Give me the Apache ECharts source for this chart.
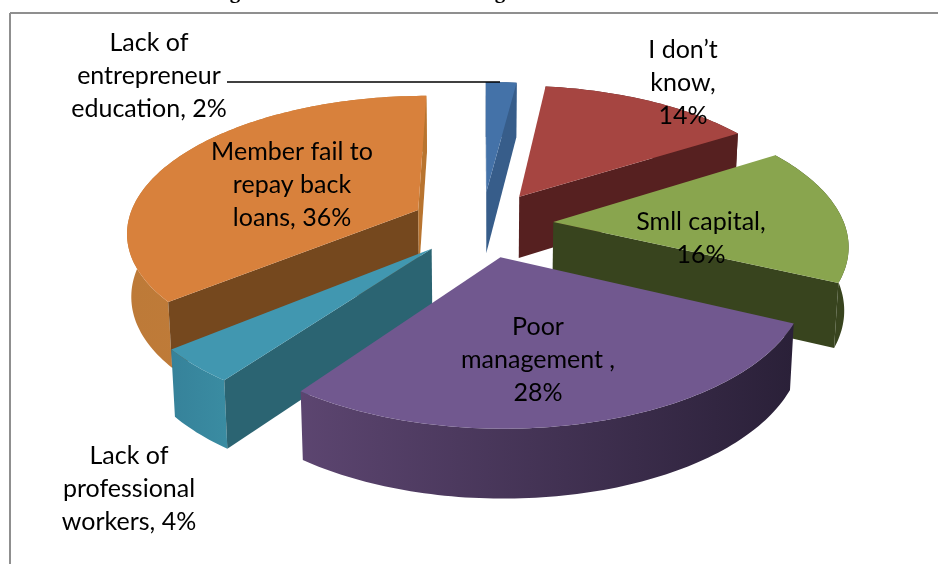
<!DOCTYPE html>
<html>
<head>
<meta charset="utf-8">
<style>html,body{margin:0;padding:0;background:#fff}#c{width:938px;height:564px}</style>
<script src="https://cdn.jsdelivr.net/npm/echarts@6/dist/echarts.min.js"></script>
</head>
<body>
<div id="c"></div>
<script>
// ---- data ----
const categories = ['Lack of entrepreneur education', 'I don\u2019t know', 'Smll capital', 'Poor management ', 'Lack of professional workers', 'Member fail to repay back loans'];
const values = [2, 14, 16, 28, 4, 36];
const labelLines = [
  ['Lack of', 'entrepreneur', 'education, 2%'],
  ['I don\u2019t', 'know,', '14%'],
  ['Smll capital,', '16%'],
  ['Poor', 'management ,', '28%'],
  ['Lack of', 'professional', 'workers, 4%'],
  ['Member fail to', 'repay back', 'loans, 36%']
];
// ---- styling ----
const topColors = ['#4472a8', '#a64541', '#89a54e', '#71588f', '#4197b0', '#d8813c'];
const startCutColors = ['#375d8a', '#562020', '#38441e', '#3a2d4a', '#2b6472', '#75481e'];
const endCutColors = ['#375d8a', '#562020', '#38441e', '#3a2d4a', '#2b6472', '#b8742f'];
const wallStops = [
  ['#375d8a', '#375d8a'], ['#562020', '#562020'], ['#38441e', '#38441e'],
  ['#5c4570', '#2a2038'], ['#36829a', '#3a8ca2'], ['#bd7a38', '#c67e3a']
];
const labelCenters = [[149, 76], [683, 83], [701, 238], [538, 360], [129, 489], [292, 185]];
const FONT = 'Lato, "Open Sans", sans-serif';

// ---- projection of the tilted, exploded pie ----
const cx = 482, cy = 224, S = 291, persp = 0.148, K = 135, explode = 0.246;
function topPoint(X, Y) {
  const w = 1 + persp * Y;
  return [cx + S * X / w, cy - K * Y / w];
}
function bottomPoint(X, Y) {
  const p = topPoint(X, Y);
  return [p[0] - (p[0] - cx) * 0.012, p[1] + 62.5 - 6 * Y];
}
const total = values.reduce((a, b) => a + b, 0);
let running = 0;
const wedges = values.map((v) => {
  const a0 = running / total * 2 * Math.PI;
  running += v;
  const a1 = running / total * 2 * Math.PI;
  const mid = (a0 + a1) / 2;
  return { a0, a1, mid, ox: explode * Math.sin(mid), oy: explode * Math.cos(mid) };
});
const depthOrder = wedges.map((w, i) => ({ i, y: w.oy + 0.5 * Math.cos(w.mid) }))
  .sort((p, q) => q.y - p.y).map((p) => p.i);

function sideOf(a, b, p) {
  return (b[0] - a[0]) * (p[1] - a[1]) - (b[1] - a[1]) * (p[0] - a[0]);
}
function renderItem(params, api) {
  const i = params.dataIndex;
  api.value(0);
  const w = wedges[i];
  const rank = depthOrder.indexOf(i) * 10;
  const N = Math.max(6, Math.round((w.a1 - w.a0) / 0.02));
  const topArc = [], botArc = [];
  for (let n = 0; n <= N; n++) {
    const t = w.a0 + (w.a1 - w.a0) * n / N;
    const X = w.ox + Math.sin(t), Y = w.oy + Math.cos(t);
    topArc.push(topPoint(X, Y));
    botArc.push(bottomPoint(X, Y));
  }
  const apexT = topPoint(w.ox, w.oy), apexB = bottomPoint(w.ox, w.oy);
  const midT = topArc[Math.floor(N / 2)];
  const children = [];
  const poly = (pts, fill, z) => ({
    type: 'polygon', silent: true, z2: rank + z, shape: { points: pts },
    style: { fill: fill, stroke: null }
  });
  children.push(poly(topArc.concat(botArc.slice().reverse()), new echarts.graphic.LinearGradient(0, 0, 1, 0, [
    { offset: 0, color: wallStops[i][0] }, { offset: 1, color: wallStops[i][1] }
  ]), 1));
  const faces = [[topArc[0], botArc[0], startCutColors[i]], [topArc[N], botArc[N], endCutColors[i]]];
  faces.forEach((f) => {
    const visible = sideOf(apexT, f[0], midT) * sideOf(apexT, f[0], f[1]) < 0;
    if (visible) children.push(poly([apexT, f[0], f[1], apexB], f[2], 2));
  });
  children.push(poly([apexT].concat(topArc), topColors[i], 3));
  return { type: 'group', children: children };
}

const graphics = [
  { type: 'line', silent: true, z: 5, shape: { x1: 10, y1: 13, x2: 938, y2: 13 }, style: { stroke: '#8f8f8f', lineWidth: 2 } },
  { type: 'line', silent: true, z: 5, shape: { x1: 10, y1: 13, x2: 10, y2: 564 }, style: { stroke: '#8f8f8f', lineWidth: 2 } },
  { type: 'line', silent: true, z: 6, shape: { x1: 227, y1: 82, x2: 500, y2: 82 }, style: { stroke: '#000', lineWidth: 1.6 } },
  { type: 'text', silent: true, z: 6, x: 235, y: -18, style: { text: 'g', font: 'bold 21px "Liberation Serif", serif', fill: '#000', align: 'center' } },
  { type: 'text', silent: true, z: 6, x: 500, y: -18, style: { text: 'g', font: 'bold 21px "Liberation Serif", serif', fill: '#000', align: 'center' } }
];
labelLines.forEach((lines, i) => {
  graphics.push({
    type: 'text', silent: true, z: 7, x: labelCenters[i][0], y: labelCenters[i][1],
    style: { text: lines.join('\n'), font: '25px ' + FONT, lineHeight: 33, fill: '#000', align: 'center', verticalAlign: 'middle' }
  });
});

const chart = echarts.init(document.getElementById('c'), null, { renderer: 'canvas' });
chart.setOption({
  animation: false,
  backgroundColor: '#fff',
  graphic: graphics,
  series: [{
    type: 'custom',
    coordinateSystem: 'none',
    silent: true,
    renderItem: renderItem,
    data: categories.map((name, i) => ({ name: name, value: [values[i]] }))
  }]
});
</script>
</body>
</html>
